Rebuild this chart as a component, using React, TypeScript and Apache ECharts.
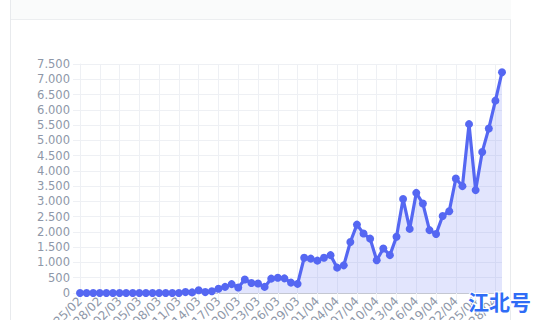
import React, { useEffect, useRef } from "react";
import * as echarts from "echarts";

const dates: string[] = [
  "25/02", "26/02", "27/02", "28/02", "29/02",
  "01/03", "02/03", "03/03", "04/03", "05/03", "06/03", "07/03", "08/03", "09/03", "10/03",
  "11/03", "12/03", "13/03", "14/03", "15/03", "16/03", "17/03", "18/03", "19/03", "20/03",
  "21/03", "22/03", "23/03", "24/03", "25/03", "26/03", "27/03", "28/03", "29/03", "30/03", "31/03",
  "01/04", "02/04", "03/04", "04/04", "05/04", "06/04", "07/04", "08/04", "09/04", "10/04",
  "11/04", "12/04", "13/04", "14/04", "15/04", "16/04", "17/04", "18/04", "19/04", "20/04",
  "21/04", "22/04", "23/04", "24/04", "25/04", "26/04", "27/04", "28/04", "29/04",
];

const values: number[] = [
  0, 0, 0, 0, 0, 0, 0, 0, 0, 0,
  0, 0, 0, 0, 0, 0, 30, 20, 90, 30,
  60, 140, 200, 290, 180, 440, 330, 310, 200, 470,
  500, 480, 340, 300, 1155, 1125, 1060, 1155, 1240, 830,
  905, 1670, 2240, 1950, 1780, 1070, 1460, 1240, 1840, 3080,
  2100, 3280, 2930, 2060, 1930, 2520, 2680, 3750, 3500, 5530,
  3370, 4620, 5390, 6300, 7230,
];

const yTicks = { min: 0, max: 7500, interval: 500 };
const watermark = "江北号";

function fmt(v: number): string {
  return String(v).replace(/\B(?=(\d{3})+(?!\d))/g, ".");
}

export default function App() {
  const ref = useRef<HTMLDivElement>(null);
  useEffect(() => {
    document.body.style.margin = "0";
    const chart = echarts.init(ref.current!, undefined, { renderer: "svg" });
    const gridColor = "#eef0f4";
    const labelColor = "#8e97a8";
    chart.setOption({
      animation: false,
      grid: { left: 80, right: 38, top: 64, bottom: 27, containLabel: false, outerBoundsMode: "none" },
      xAxis: {
        type: "category",
        data: dates,
        boundaryGap: false,
        axisLine: { show: true, lineStyle: { color: "#c4c7d2", width: 1 } },
        axisTick: { show: true, interval: 2, length: 7, lineStyle: { color: gridColor } },
        axisLabel: {
          interval: 2,
          rotate: 45,
          margin: 6,
          color: labelColor,
          fontSize: 12,
          fontFamily: "DejaVu Sans",
        },
        splitLine: { show: true, interval: 2, lineStyle: { color: gridColor } },
      },
      yAxis: {
        type: "value",
        min: yTicks.min,
        max: yTicks.max,
        interval: yTicks.interval,
        axisLine: { show: true, lineStyle: { color: gridColor } },
        axisTick: { show: true, length: 7, lineStyle: { color: gridColor } },
        axisLabel: {
          color: labelColor,
          fontSize: 11.5,
          fontFamily: "DejaVu Sans",
          margin: 10,
          formatter: (v: number) => fmt(v),
        },
        splitLine: { show: true, lineStyle: { color: gridColor } },
      },
      series: [
        {
          type: "line",
          data: values,
          symbol: "circle",
          symbolSize: 8,
          showAllSymbol: true,
          lineStyle: { color: "#5567f2", width: 3.2 },
          itemStyle: { color: "#5567f2" },
          areaStyle: { color: "rgba(120,130,245,0.3)" },
        },
      ],
      graphic: [
        {
          type: "text",
          x: 468,
          y: 290,
          z: 100,
          style: {
            text: watermark,
            font: 'bold 21px "Noto Sans CJK SC"',
            fill: "#2f6cf6",
            stroke: "#ffffff",
            lineWidth: 2,
          },
        },
      ],
    });
    return () => chart.dispose();
  }, []);
  return (
    <div style={{ position: "relative", width: 540, height: 320, background: "#fff", overflow: "hidden" }}>
      <div
        style={{
          position: "absolute",
          left: 10,
          top: -1,
          width: 501,
          height: 340,
          border: "1px solid #e8eaed",
          boxSizing: "border-box",
        }}
      />
      <div
        style={{
          position: "absolute",
          left: 11,
          top: -1,
          width: 500,
          height: 21,
          background: "#fafbfb",
          borderBottom: "1px solid #eceef0",
          boxSizing: "border-box",
        }}
      />
      <div ref={ref} style={{ position: "absolute", left: 0, top: 0, width: 540, height: 320 }} />
    </div>
  );
}
